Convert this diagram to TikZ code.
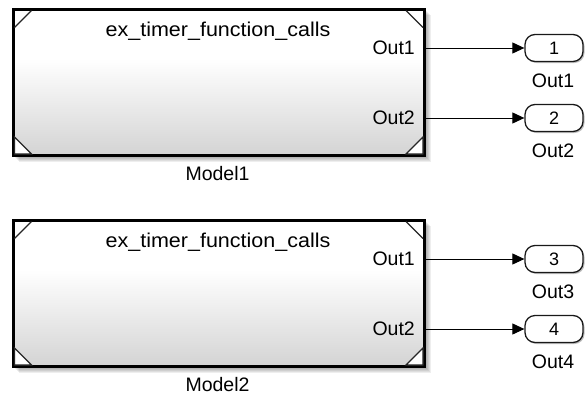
\documentclass[tikz,border=0pt]{standalone}
\usepackage{fontspec}
\usepackage{graphicx}
\setmainfont{Liberation Sans}
\usetikzlibrary{arrows.meta,calc,shadows}
\definecolor{shadegray}{gray}{0.83}
\pgfdeclareverticalshading{blockshade}{100bp}{color(0bp)=(shadegray); color(25bp)=(shadegray); color(58bp)=(white); color(100bp)=(white)}
\tikzset{
  softshadow/.style={drop shadow={shadow xshift=#1pt, shadow yshift=-#1pt, opacity=0.065, fill=black}},
  modelblock/.style={draw=black, line width=3pt, shading=blockshade,
    minimum width=411.5pt, minimum height=146.5pt, inner sep=0pt,
    softshadow=1, softshadow=2, softshadow=3, softshadow=4, softshadow=5, softshadow=6},
  lbl/.style={font=\fontsize{19.5}{22}\selectfont, inner sep=0pt, text=black},
  titlelbl/.style={font=\fontsize{20}{22}\selectfont, inner sep=0pt, text=black},
  cornerline/.style={draw=black!85, line width=1.2pt},
  cornertri/.style={draw=black!85, fill=white, line width=1.2pt, line join=miter},
  outport/.style={draw=black!90, line width=1.3pt, fill=white, rounded corners=10pt,
    minimum width=58pt, minimum height=27pt, inner sep=0pt,
    font=\fontsize{18}{20}\selectfont,
    drop shadow={shadow xshift=1.5pt, shadow yshift=-1.5pt, opacity=0.25, fill=black}},
  wire/.style={draw=black, line width=1pt, -{Triangle[length=12pt,width=11pt]}},
}
\begin{document}
\begin{tikzpicture}[x=1pt,y=-1pt]
\useasboundingbox[fill=white] (0,0) rectangle (585,399);

% ---------- Model1 ----------
\node[modelblock] (b1) at (218.75,82.25) {};
\draw[cornerline] ($(b1.north west)+(3,20)$) -- ($(b1.north west)+(20,3)$);
\draw[cornerline] ($(b1.north east)+(-20,3)$) -- ($(b1.north east)+(-3,20)$);
\draw[cornertri] ($(b1.south west)+(3,-3)$) -- ($(b1.south west)+(3,-20)$) -- ($(b1.south west)+(20,-3)$) -- cycle;
\draw[cornertri] ($(b1.south east)+(-3,-3)$) -- ($(b1.south east)+(-3,-20)$) -- ($(b1.south east)+(-20,-3)$) -- cycle;
\node[titlelbl, anchor=base] (t1) at (218,36) {\scalebox{1.075}[1]{ex\_timer\_function\_calls}};
\node[lbl, anchor=base east] (o11) at (415,54) {Out1};
\node[lbl, anchor=base east] (o12) at (415,124) {Out2};
\node[lbl, anchor=base] (m1) at (217.5,180) {Model1};

\node[outport] (p1) at (554,48) {1};
\node[outport] (p2) at (554,118) {2};
\node[lbl, anchor=base] (l1) at (553,87) {Out1};
\node[lbl, anchor=base] (l2) at (553,157) {Out2};
\draw[wire] (b1.east |- p1.west) -- (p1.west);
\draw[wire] (b1.east |- p2.west) -- (p2.west);

% ---------- Model2 ----------
\node[modelblock] (b2) at (218.75,293.25) {};
\draw[cornerline] ($(b2.north west)+(3,20)$) -- ($(b2.north west)+(20,3)$);
\draw[cornerline] ($(b2.north east)+(-20,3)$) -- ($(b2.north east)+(-3,20)$);
\draw[cornertri] ($(b2.south west)+(3,-3)$) -- ($(b2.south west)+(3,-20)$) -- ($(b2.south west)+(20,-3)$) -- cycle;
\draw[cornertri] ($(b2.south east)+(-3,-3)$) -- ($(b2.south east)+(-3,-20)$) -- ($(b2.south east)+(-20,-3)$) -- cycle;
\node[titlelbl, anchor=base] (t2) at (218,247) {\scalebox{1.075}[1]{ex\_timer\_function\_calls}};
\node[lbl, anchor=base east] (o21) at (415,265) {Out1};
\node[lbl, anchor=base east] (o22) at (415,335) {Out2};
\node[lbl, anchor=base] (m2) at (217.5,391) {Model2};

\node[outport] (p3) at (554,259) {3};
\node[outport] (p4) at (554,329) {4};
\node[lbl, anchor=base] (l3) at (553,298) {Out3};
\node[lbl, anchor=base] (l4) at (553,368) {Out4};
\draw[wire] (b2.east |- p3.west) -- (p3.west);
\draw[wire] (b2.east |- p4.west) -- (p4.west);
\end{tikzpicture}
\end{document}
